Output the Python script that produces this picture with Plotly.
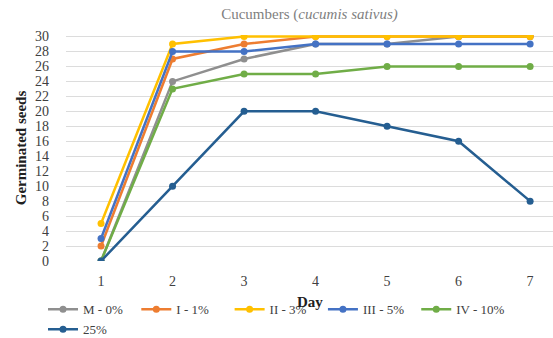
import plotly.graph_objects as go

days = [1, 2, 3, 4, 5, 6, 7]
series_names = ["M - 0%", "I - 1%", "II - 3%", "III - 5%", "IV - 10%", "25%"]
m0 = [0, 24, 27, 29, 29, 30, 30]
i1 = [2, 27, 29, 30, 30, 30, 30]
ii3 = [5, 29, 30, 30, 30, 30, 30]
iii5 = [3, 28, 28, 29, 29, 29, 29]
iv10 = [0, 23, 25, 25, 26, 26, 26]
p25 = [0, 10, 20, 20, 18, 16, 8]
y_ticks = list(range(0, 31, 2))

colors = ["#8f8f8f", "#ED7D31", "#FFC000", "#4472C4", "#70AD47", "#255E91"]
values = [m0, i1, ii3, iii5, iv10, p25]

FONT = "Times New Roman, Liberation Serif, serif"
fig = go.Figure()
for name, vals, c in zip(series_names, values, colors):
    fig.add_trace(go.Scatter(x=days, y=vals, name=name, mode="lines+markers",
                             line=dict(color=c, width=2.5),
                             marker=dict(color=c, size=7)))

fig.update_layout(
    width=553, height=338,
    margin=dict(l=66, r=0, t=35, b=77, autoexpand=False),
    paper_bgcolor="white", plot_bgcolor="white",
    font=dict(family=FONT, size=14, color="#404040"),
    title=dict(text="Cucumbers (<i>cucumis sativus)</i>", x=0.5, xref="paper",
               xanchor="center", y=0.96, yref="container", yanchor="middle",
               font=dict(family=FONT, size=15, color="#7f7f7f")),
    showlegend=True,
    legend=dict(orientation="h", x=0.5, xref="container", xanchor="center",
                y=0.055, yref="container", yanchor="middle",
                font=dict(family=FONT, size=13, color="#404040"),
                itemwidth=30, tracegroupgap=0, traceorder="normal"),
    xaxis=dict(range=[0.51, 7.32], tickvals=days, showgrid=False, zeroline=False,
               showline=False, ticks="", ticklabelstandoff=10,
               tickfont=dict(family=FONT, size=14, color="#404040")),
    yaxis=dict(range=[0, 30.2], tickvals=y_ticks, showgrid=True, gridcolor="#dcdcdc",
               gridwidth=1, zeroline=False, showline=False, ticks="",
               ticklabelstandoff=16,
               tickfont=dict(family=FONT, size=14, color="#404040"),
               title=dict(text="<b>Germinated seeds</b>", standoff=4,
                          font=dict(family=FONT, size=15, color="#202020"))),
)
fig.add_annotation(text="<b>Day</b>", xref="paper", yref="paper", x=0.5, y=-0.18,
                   xanchor="center", yanchor="middle", showarrow=False,
                   font=dict(family=FONT, size=15, color="#202020"))
fig.write_html("out.html")
